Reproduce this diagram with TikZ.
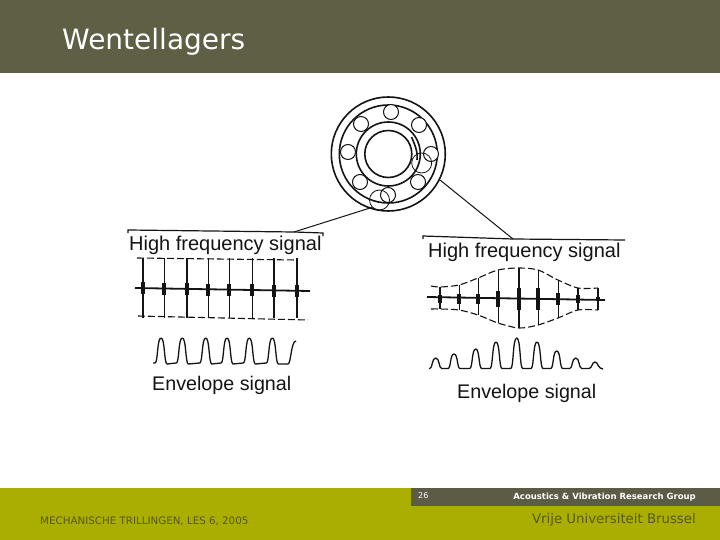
\documentclass[tikz,border=0pt]{standalone}
\usepackage{fontspec}
\setmainfont{Liberation Sans}
\newfontfamily\slidefont{DejaVu Sans}
\usepackage{xcolor}
\definecolor{header}{RGB}{95,95,69}
\definecolor{footer}{RGB}{169,174,0}
\definecolor{bar}{RGB}{92,92,70}
\definecolor{ink}{RGB}{20,20,20}
\definecolor{olive}{RGB}{85,87,30}
\begin{document}
\begin{tikzpicture}[x=1pt,y=-1pt]
\tikzstyle{T}=[inner sep=0pt,anchor=west,text=ink,font=\fontsize{20}{22}\selectfont]
\tikzstyle{F}=[inner sep=0pt,font=\slidefont\fontsize{10.3}{12}\selectfont]
\tikzstyle{Ring}=[draw=ink,line width=1.6pt]
\tikzstyle{Ball}=[draw=ink,fill=white,line width=1pt]
\tikzstyle{Spike}=[draw=ink,line width=1.6pt]
\tikzstyle{Blob}=[draw=ink,line width=4pt]
\tikzstyle{Env}=[draw=ink,line width=1.1pt,dash pattern=on 7pt off 3pt]
\tikzstyle{Sig}=[draw=ink,line width=1.3pt,line join=round]
\useasboundingbox (0,0) rectangle (720,540);
\fill[white] (0,0) rectangle (720,540);
\fill[header] (0,0) rectangle (720,73);
\fill[footer] (0,488) rectangle (720,540);
\fill[bar] (411,488) rectangle (720,506);
\node[inner sep=0pt,anchor=west,text=white,font=\slidefont\fontsize{28}{32}\selectfont] (title) at (62,42) {Wentellagers};
\node[F,anchor=west,text=white,font=\slidefont\fontsize{8}{10}\selectfont] (page) at (418,496) {26};
\node[F,anchor=east,text=white,font=\slidefont\bfseries\fontsize{8.5}{10}\selectfont] (group) at (696,497) {Acoustics \& Vibration Research Group};
\node[F,anchor=east,text=olive,font=\slidefont\fontsize{13.3}{15}\selectfont] (vub) at (696,520) {Vrije Universiteit Brussel};
\node[F,anchor=west,text=olive] (course) at (40,521) {MECHANISCHE TRILLINGEN, LES 6, 2005};
\node[Ring,circle,minimum size=114pt,inner sep=0pt] (outer) at (388.3,154) {};
\node[Ring,circle,minimum size=98pt,inner sep=0pt] (track) at (388.3,154) {};
\foreach \bx/\by/\n in {391/112/a,361/124/b,419/125/c,348/152/d,431/154/e,360/182/f,418/182/g,388/195/h}
  \node[Ball,circle,minimum size=15pt,inner sep=0pt] (ball\n) at (\bx,\by) {};
\node[Ring,fill=white,circle,minimum size=64pt,inner sep=0pt] (race) at (388.3,154) {};
\node[Ring,circle,minimum size=47pt,inner sep=0pt] (bore) at (388.3,154) {};
\node[draw=ink,circle,minimum size=20pt,inner sep=0pt,line width=0.8pt] (lzoom) at (379.5,200) {};
\node[draw=ink,circle,minimum size=20pt,inner sep=0pt,line width=0.8pt] (rzoom) at (421.7,163) {};
\draw[ink,line width=1.6pt] (411.5,137) .. controls (416,147) and (418,154) .. (417,160);
\coordinate (lkick) at (294,232);
\coordinate (rkick) at (513,239);
\draw[ink,line width=1pt] (lzoom.south west)--(lkick);
\draw[ink,line width=1pt] (440,180)--(rkick);
\draw[ink,line width=1.2pt] (128,233)--(128,230)--(lkick)--(323,233)--(323,236);
\draw[ink,line width=1.2pt] (423,239)--(423,236)--(rkick)--(625,240);
\node[T] (lhigh) at (129,245.5) {High frequency signal};
\node[T] (rhigh) at (428,252) {High frequency signal};
\node[T,font=\fontsize{19.7}{22}\selectfont] (lenv) at (152,385) {Envelope signal};
\node[T,font=\fontsize{19.7}{22}\selectfont] (renv) at (457,393) {Envelope signal};
\draw[Env] (137,258)--(297,260);
\draw[Env] (138,316)--(308,320);
\draw[ink,line width=1.8pt] (135,288)--(310,291);
\foreach \sx/\sy in {142.7/288,164.3/288.5,186.7/289,208.3/289.5,229.3/290,252.3/290,274/290.5,296.7/291}{
  \draw[Spike] (\sx,258)--(\sx,318);
  \draw[Blob] (\sx,\sy-6)--(\sx,\sy+6);
}
\draw[Sig] (153,363) foreach \px in {161,182.3,205.7,227,249.3,272.3}{
  -- (\px-6,363) .. controls (\px-3,363) and (\px-4,338) .. (\px,338) .. controls (\px+4,338) and (\px+3,363) .. (\px+6,364)
} -- (288,364) .. controls (291,364) and (291,341) .. (296,341);
\draw[Env] plot[smooth] coordinates {(431,286) (440,287) (459,285) (478,278) (498,270) (519,268) (538,270) (558,280) (578,288) (598,288)};
\draw[Env] plot[smooth] coordinates {(431,309) (440,309) (459,310) (478,315) (498,323) (519,328) (538,325) (558,318) (578,310) (598,310)};
\draw[ink,line width=1.8pt] (427,297)--(605,300);
\foreach \sx/\st/\sb/\sh in {440/287/309/4,459.3/285/310/5,478.3/278/315/5,498.3/270/323/8,519/268/328/11,538.3/270/325/11,558.3/280/318/6,577.7/288/310/4,597.7/288/310/2}{
  \draw[Spike] (\sx,\st)--(\sx,\sb);
  \draw[Blob] (\sx,299-\sh)--(\sx,299+\sh);
}
\draw[Sig] (430,368.5) foreach \px/\pt in {435.7/358,454/354,475.7/349,496/342,516.7/338,537/342,556.7/351,575.7/358}{
  -- (\px-6,368.5) .. controls (\px-3,368.5) and (\px-4,\pt) .. (\px,\pt) .. controls (\px+4,\pt) and (\px+3,368.5) .. (\px+6,368.5)
} -- (589,368.5) .. controls (592,368.5) and (592,362) .. (595,362) .. controls (598,362) and (598,369) .. (603,369);
\end{tikzpicture}
\end{document}
